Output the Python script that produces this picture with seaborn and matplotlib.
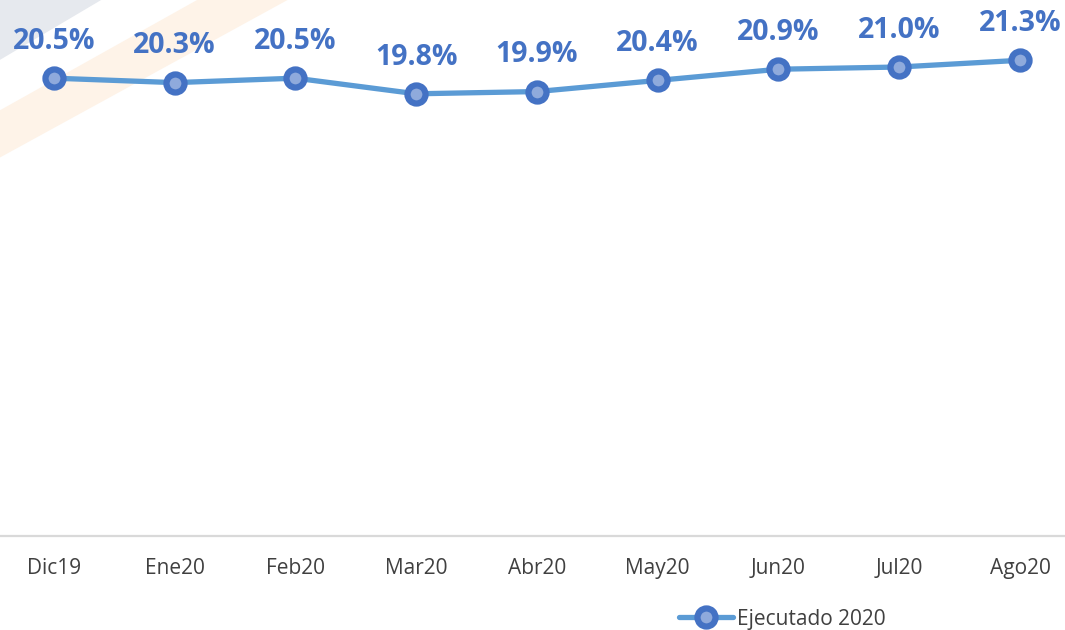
import matplotlib
matplotlib.use('Agg')
from matplotlib import pyplot as plt
from matplotlib.patches import Polygon
import pandas as pd
import seaborn as sns


months = ['Dic19', 'Ene20', 'Feb20', 'Mar20', 'Abr20', 'May20', 'Jun20', 'Jul20', 'Ago20']
ejecutado = [20.5, 20.3, 20.5, 19.8, 19.9, 20.4, 20.9, 21.0, 21.3]
series_name = 'Ejecutado 2020'

LINE = '#5B9BD5'
EDGE = '#4472C4'
FILL = '#8FAADC'
TEXT = '#404040'

sns.set_theme(style='white')
plt.rcParams['font.family'] = ['Open Sans', 'DejaVu Sans']

df = pd.DataFrame({'mes': months, 'valor': ejecutado})

fig = plt.figure(figsize=(10.65, 6.3), dpi=100)

# faint watermark in the top-left corner, kept behind the axes
fig.patches.append(Polygon([(0, 1), (0.095, 1), (0, 0.905)], closed=True,
                           transform=fig.transFigure, facecolor='#E6E9EE', edgecolor='none', zorder=-2))
fig.patches.append(Polygon([(0.185, 1), (0.27, 1), (0, 0.75), (0, 0.825)], closed=True,
                           transform=fig.transFigure, facecolor='#FEF3E8', edgecolor='none', zorder=-2))

ax = fig.add_axes([0, 94 / 630, 1, 536 / 630])
ax.patch.set_alpha(0)

sns.lineplot(data=df, x='mes', y='valor', ax=ax, color=LINE, linewidth=3.8,
             marker='o', markersize=13, markeredgewidth=4.5,
             markeredgecolor=EDGE, markerfacecolor=FILL, label=series_name,
             legend=False, sort=False)

for i, v in enumerate(ejecutado):
    ax.annotate(f'{v:.1f}%', (i, v), xytext=(0, 21), textcoords='offset points',
                ha='center', va='baseline', fontsize=20.5, fontweight='bold', color=EDGE)

ax.set_ylim(0, 24)
ax.set_xlim(-0.447, 8.373)
ax.set_yticks([])
ax.set_xlabel('')
ax.set_ylabel('')
for side in ['top', 'right', 'left']:
    ax.spines[side].set_visible(False)
ax.spines['bottom'].set_color('#D9D9D9')
ax.spines['bottom'].set_linewidth(1.6)
ax.tick_params(axis='x', length=0, pad=16, labelsize=15, labelcolor=TEXT)

handles, labels = ax.get_legend_handles_labels()
fig.legend(handles, labels, loc='center', bbox_to_anchor=(782 / 1065, 1 - 619 / 630),
           frameon=False, fontsize=15, handlelength=2.6, handletextpad=0.2,
           labelcolor=TEXT)

fig.savefig('out.png', dpi=100)
